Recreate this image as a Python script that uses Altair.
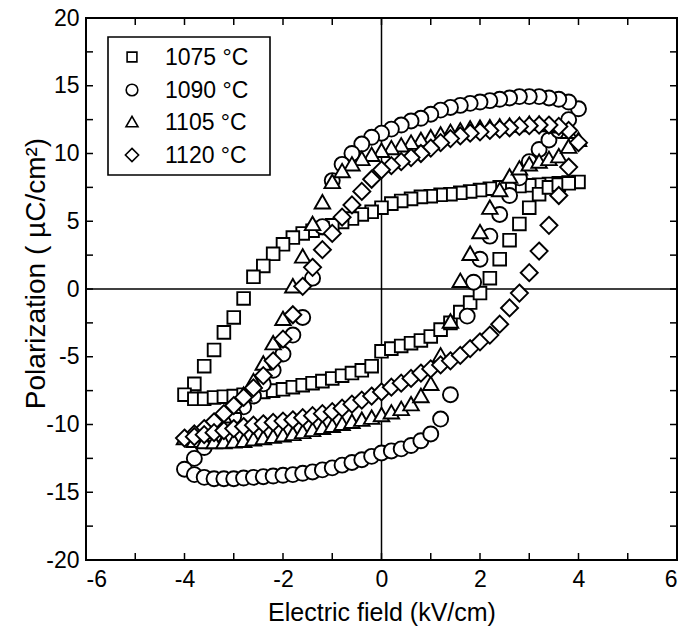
import altair as alt
import pandas as pd

# ---- data ----
SERIES = ["1075 °C", "1090 °C", "1105 °C", "1120 °C"]

E_DOWN = [4.0, 3.8, 3.6, 3.4, 3.2, 3.0, 2.8, 2.6, 2.4, 2.2,
          2.0, 1.8, 1.6, 1.4, 1.2, 1.0, 0.8, 0.6, 0.4, 0.2,
          0.0, -0.2, -0.4, -0.6, -0.8, -1.0, -1.2, -1.4, -1.6, -1.8,
          -2.0, -2.2, -2.4, -2.6, -2.8, -3.0, -3.2, -3.4, -3.6, -3.8,
          -4.0]
E_UP = [-3.8, -3.6, -3.4, -3.2, -3.0, -2.8, -2.6, -2.4, -2.2, -2.0,
        -1.8, -1.6, -1.4, -1.2, -1.0, -0.8, -0.6, -0.4, -0.2, 0.0,
        0.2, 0.4, 0.6, 0.8, 1.0, 1.2, 1.4, 1.6, 1.8, 2.0,
        2.2, 2.4, 2.6, 2.8, 3.0, 3.2, 3.4, 3.6, 3.8]
CI_E_UP = [-3.8, -3.6, -3.4, -3.2, -3.0, -2.8, -2.6, -2.4, -2.2, -2.0,
           -1.8, -1.6, -1.4, -1.2, -1.0, -0.8, -0.6, -0.4, -0.2, 0.0,
           0.2, 0.4, 0.6, 0.8, 1.0, 1.2, 1.4,
           1.74, 1.87, 2.0, 2.2, 2.4, 2.6, 2.8, 3.0, 3.2, 3.4, 3.6, 3.8]

SQ_DOWN = [7.9, 7.85, 7.8, 7.75, 7.7, 7.65, 7.6, 7.55, 7.5, 7.4,
           7.3, 7.2, 7.1, 7.0, 6.95, 6.85, 6.8, 6.65, 6.5, 6.3,
           6.0, 5.7, 5.5, 5.2, 4.95, 4.7, 4.5, 4.3, 4.1, 3.8,
           3.3, 2.6, 1.7, 0.9, -0.7, -2.1, -3.2, -4.5, -5.7, -7.0,
           -7.8]
SQ_UP = [-8.1, -8.1, -8.0, -7.95, -7.9, -7.8, -7.7, -7.6, -7.5, -7.4,
         -7.25, -7.1, -6.95, -6.8, -6.6, -6.4, -6.2, -6.0, -5.7, -4.6,
         -4.4, -4.2, -4.0, -3.8, -3.5, -3.0, -2.5, -1.7, -1.0, -0.3,
         0.8, 2.2, 3.6, 4.8, 6.0, 7.0, 7.5, 7.7, 7.8]

CI_DOWN = [13.3, 13.8, 14.0, 14.1, 14.2, 14.2, 14.2, 14.1, 14.0, 13.9,
           13.8, 13.7, 13.55, 13.4, 13.2, 12.9, 12.6, 12.4, 12.1, 11.8,
           11.5, 11.2, 10.7, 10.0, 9.2, 8.0, 4.6, 0.8, -2.1, -3.4,
           -4.8, -6.0, -7.0, -7.9, -8.7, -9.4, -10.1, -10.8, -11.7, -12.5,
           -13.3]
CI_UP = [-13.7, -13.9, -14.0, -14.0, -14.0, -13.95, -13.9, -13.85, -13.8, -13.75,
         -13.7, -13.6, -13.5, -13.35, -13.2, -13.0, -12.8, -12.6, -12.35, -12.1,
         -11.95, -11.8, -11.55, -11.2, -10.7, -9.6, -7.8,
         -2.0, 0.5, 2.2, 3.9, 5.5, 6.9, 8.2, 9.4, 10.3, 11.0, 11.7, 12.5]

TR_DOWN = [11.0, 11.6, 12.0, 12.1, 12.2, 12.2, 12.1, 12.05, 12.0, 11.95,
           11.9, 11.85, 11.7, 11.6, 11.4, 11.2, 11.0, 10.8, 10.6, 10.4,
           10.2, 9.9, 9.6, 9.2, 8.7, 7.9, 6.4, 4.8, 2.4, 0.2,
           -2.2, -4.0, -5.5, -6.8, -7.8, -8.7, -9.4, -10.0, -10.5, -10.8,
           -11.0]
TR_UP = [-11.2, -11.3, -11.3, -11.3, -11.25, -11.2, -11.1, -11.0, -10.9, -10.8,
         -10.7, -10.55, -10.4, -10.25, -10.1, -9.95, -9.8, -9.65, -9.5, -9.3,
         -9.1, -8.85, -8.5, -7.9, -7.0, -4.9, -2.4, 0.6, 2.6, 4.2,
         6.0, 7.3, 8.3, 8.9, 9.2, 9.4, 9.6, 9.8, 10.5]

DI_DOWN = [10.8, 11.7, 12.0, 12.1, 12.1, 12.05, 12.0, 11.9, 11.8, 11.7,
           11.6, 11.5, 11.3, 11.1, 10.8, 10.4, 10.0, 9.7, 9.4, 9.1,
           8.8, 8.1, 7.2, 6.2, 5.3, 4.1, 2.9, 1.6, 0.2, -1.9,
           -3.7, -5.3, -6.4, -7.3, -8.0, -8.6, -9.2, -9.8, -10.3, -10.7,
           -11.0]
DI_UP = [-10.9, -10.75, -10.6, -10.45, -10.3, -10.15, -10.05, -9.95, -9.85, -9.75,
         -9.65, -9.5, -9.35, -9.2, -9.05, -8.8, -8.5, -8.2, -7.9, -7.6,
         -7.25, -6.95, -6.6, -6.2, -5.9, -5.6, -5.3, -4.9, -4.4, -3.9,
         -3.4, -2.6, -1.4, -0.3, 1.2, 2.8, 4.7, 6.9, 9.0]

X_LABELS = [-6, -4, -2, 0, 2, 4, 6]
Y_LABELS = [-20, -15, -10, -5, 0, 5, 10, 15, 20]
X_TICKS = [-5, -4, -3, -2, -1, 0, 1, 2, 3, 4, 5]
Y_TICKS = [-17.5, -15, -12.5, -10, -7.5, -5, -2.5, 0, 2.5, 5, 7.5, 10, 12.5, 15, 17.5]

# marker outlines (unit-box SVG paths, kept apart from the data)
SHAPES = [
    "M-0.8,-0.8H0.8V0.8H-0.8Z",
    "M0.95,0A0.95,0.95,0,1,1,-0.95,0A0.95,0.95,0,1,1,0.95,0Z",
    "M-0.98,0.78H0.98L0,-0.92Z",
    "M0,-1.08L1.08,0L0,1.08L-1.08,0Z",
]

# ---- build table ----
loops = [
    (SERIES[0], E_DOWN + E_UP, SQ_DOWN + SQ_UP),
    (SERIES[1], E_DOWN + CI_E_UP, CI_DOWN + CI_UP),
    (SERIES[2], E_DOWN + E_UP, TR_DOWN + TR_UP),
    (SERIES[3], E_DOWN + E_UP, DI_DOWN + DI_UP),
]
rows = []
for name, es, ps in loops:
    assert len(es) == len(ps), name
    for e, p in zip(es, ps):
        rows.append({"series": name, "E": e, "P": p})
df = pd.DataFrame(rows)

W, H = 591, 542
FONT = "Liberation Sans"
xs = alt.Scale(domain=[-6, 6], nice=False, zero=False)
ys = alt.Scale(domain=[-20, 20], nice=False, zero=False)

points = alt.Chart(df).mark_point(fill="white", fillOpacity=1, opacity=1,
                                  stroke="black", strokeWidth=1.9,
                                  size=250).encode(
    x=alt.X("E:Q", scale=xs,
            axis=alt.Axis(values=X_LABELS, title="Electric field (kV/cm)",
                          labelExpr="toString(datum.value)",
                          titleX=W / 2, titleY=52, titleBaseline="middle",
                          labelPadding=8)),
    y=alt.Y("P:Q", scale=ys,
            axis=alt.Axis(values=Y_LABELS, title="Polarization ( µC/cm²)",
                          labelExpr="toString(datum.value)",
                          titleX=-50, titleY=255, titleBaseline="middle",
                          titleAlign="center", titleFontSize=28, labelPadding=7)),
    shape=alt.Shape("series:N", scale=alt.Scale(domain=SERIES, range=SHAPES),
                    legend=None),
)

zero_x = alt.Chart(pd.DataFrame({"E": [0]})).mark_rule(color="black", strokeWidth=1.5).encode(
    x=alt.X("E:Q", scale=xs))
zero_y = alt.Chart(pd.DataFrame({"P": [0]})).mark_rule(color="black", strokeWidth=1.5).encode(
    y=alt.Y("P:Q", scale=ys))

xt = pd.DataFrame({"E": X_TICKS})
yt = pd.DataFrame({"P": Y_TICKS})
TL = 7
tick_b = alt.Chart(xt).mark_rule(color="black", strokeWidth=1.5).encode(
    x=alt.X("E:Q", scale=xs), y=alt.value(H), y2=alt.value(H - TL))
tick_t = alt.Chart(xt).mark_rule(color="black", strokeWidth=1.5).encode(
    x=alt.X("E:Q", scale=xs), y=alt.value(0), y2=alt.value(TL))
tick_l = alt.Chart(yt).mark_rule(color="black", strokeWidth=1.5).encode(
    y=alt.Y("P:Q", scale=ys), x=alt.value(0), x2=alt.value(TL))
tick_r = alt.Chart(yt).mark_rule(color="black", strokeWidth=1.5).encode(
    y=alt.Y("P:Q", scale=ys), x=alt.value(W), x2=alt.value(W - TL))

# ---- legend box (drawn as guide layers) ----
LEG_BOX = (22, 184, 19, 157)          # x, x2, y, y2 in plot pixels
LEG_SYM_X, LEG_TXT_X = 46, 79
LEG_ROW_Y = [39, 72, 104, 137]

one = pd.DataFrame({"k": [0]})
legend_layers = [
    alt.Chart(one).mark_rect(fill="white", stroke="black", strokeWidth=1.6).encode(
        x=alt.value(LEG_BOX[0]), x2=alt.value(LEG_BOX[1]),
        y=alt.value(LEG_BOX[2]), y2=alt.value(LEG_BOX[3]))
]
for name, shp, ry in zip(SERIES, SHAPES, LEG_ROW_Y):
    legend_layers.append(
        alt.Chart(one).mark_point(shape=shp, size=150, fill="white", fillOpacity=1,
                                  opacity=1, stroke="black", strokeWidth=1.6).encode(
            x=alt.value(LEG_SYM_X), y=alt.value(ry)))
    legend_layers.append(
        alt.Chart(one).mark_text(text=name, align="left", baseline="middle",
                                 font=FONT, fontSize=23, color="black").encode(
            x=alt.value(LEG_TXT_X), y=alt.value(ry + 1)))

chart = alt.layer(zero_x, zero_y, tick_b, tick_t, tick_l, tick_r, points,
                  *legend_layers).properties(
    width=W, height=H,
    padding={"left": 86, "top": 18, "right": 8, "bottom": 69},
    autosize=alt.AutoSizeParams(type="none"),
    background="white",
).configure_view(stroke="black", strokeWidth=2).configure_axis(
    grid=False, ticks=False, domain=False,
    labelFont=FONT, labelFontSize=23, labelColor="black",
    titleFont=FONT, titleFontSize=25, titleColor="black", titleFontWeight="normal",
)

chart.save("out.html", embed_options={"renderer": "svg", "actions": False})
